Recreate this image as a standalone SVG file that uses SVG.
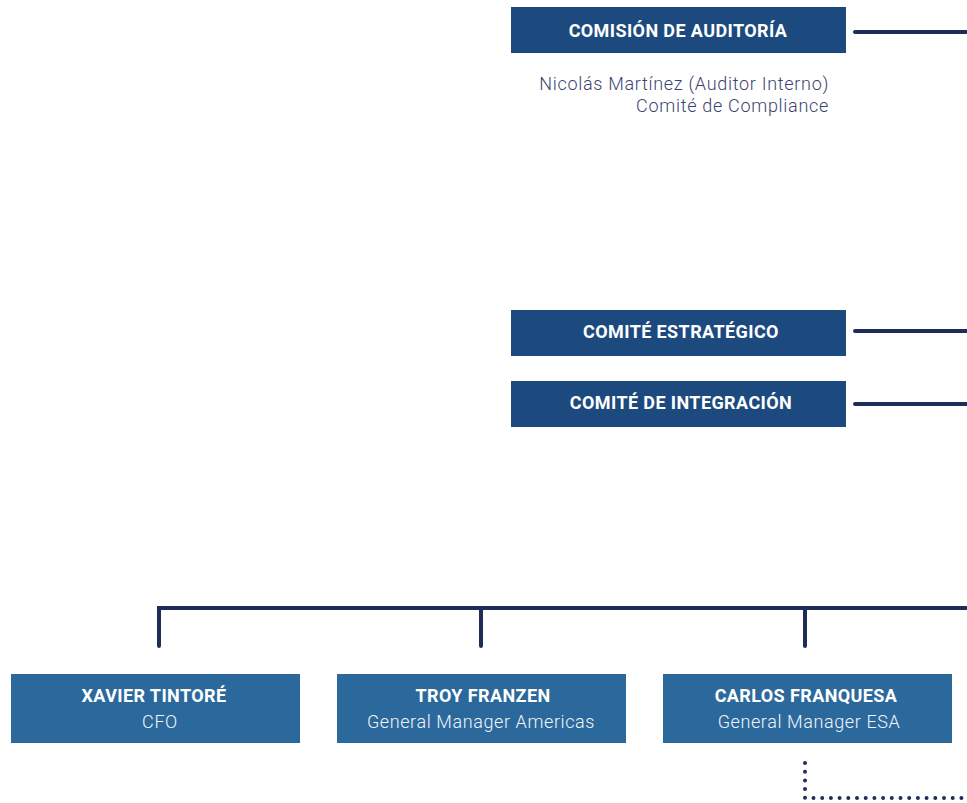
<svg xmlns="http://www.w3.org/2000/svg" width="967" height="803" viewBox="0 0 967 803">
<style>
.top{fill:#1c4a7e}
.mgr{fill:#2b699c}
.t{font-family:Roboto,"Liberation Sans",sans-serif;font-weight:700;font-size:18px;letter-spacing:0.4px;fill:#fff;text-anchor:middle}
.s{font-family:Roboto,"Liberation Sans",sans-serif;font-weight:300;font-size:18px;letter-spacing:0.6px;fill:#f2f5f9;text-anchor:middle}
.n{font-family:Roboto,"Liberation Sans",sans-serif;font-weight:300;font-size:18px;letter-spacing:0.7px;fill:#3c4470;text-anchor:end}
.ln{stroke:#1f2d5a;stroke-width:4;fill:none;stroke-linecap:round;stroke-linejoin:miter}
.dot{stroke:#1f2d5a;stroke-width:4;fill:none;stroke-linecap:round;stroke-dasharray:0 8.7}
</style>
<rect width="967" height="803" fill="#fff"/>
<g id="connectors">
<path class="ln" d="M855 32H967"/>
<path class="ln" d="M855 331H967"/>
<path class="ln" d="M855 404H967"/>
<path class="ln" d="M159 646V608H967"/>
<path class="ln" d="M481 608V646"/>
<path class="ln" d="M805 608V646"/>
<path class="dot" d="M805 763V798H967"/>
</g>
<g id="comision-auditoria">
<rect class="top" x="511" y="7" width="335" height="46"/>
<text class="t" x="678" y="37">COMISIÓN DE AUDITORÍA</text>
<text class="n" x="829" y="90">Nicolás Martínez (Auditor Interno)</text>
<text class="n" x="829" y="112">Comité de Compliance</text>
</g>
<g id="comite-estrategico">
<rect class="top" x="511" y="310" width="335" height="46"/>
<text class="t" x="681" y="338">COMITÉ ESTRATÉGICO</text>
</g>
<g id="comite-integracion">
<rect class="top" x="511" y="381" width="335" height="46"/>
<text class="t" x="681" y="409">COMITÉ DE INTEGRACIÓN</text>
</g>
<g id="xavier">
<rect class="mgr" x="11" y="674" width="289" height="69"/>
<text class="t" x="154" y="702">XAVIER TINTORÉ</text>
<text class="s" x="160" y="728">CFO</text>
</g>
<g id="troy">
<rect class="mgr" x="337" y="674" width="289" height="69"/>
<text class="t" x="483" y="702">TROY FRANZEN</text>
<text class="s" x="481" y="728">General Manager Americas</text>
</g>
<g id="carlos">
<rect class="mgr" x="663" y="674" width="289" height="69"/>
<text class="t" x="806" y="702">CARLOS FRANQUESA</text>
<text class="s" x="809" y="728">General Manager ESA</text>
</g>
</svg>
